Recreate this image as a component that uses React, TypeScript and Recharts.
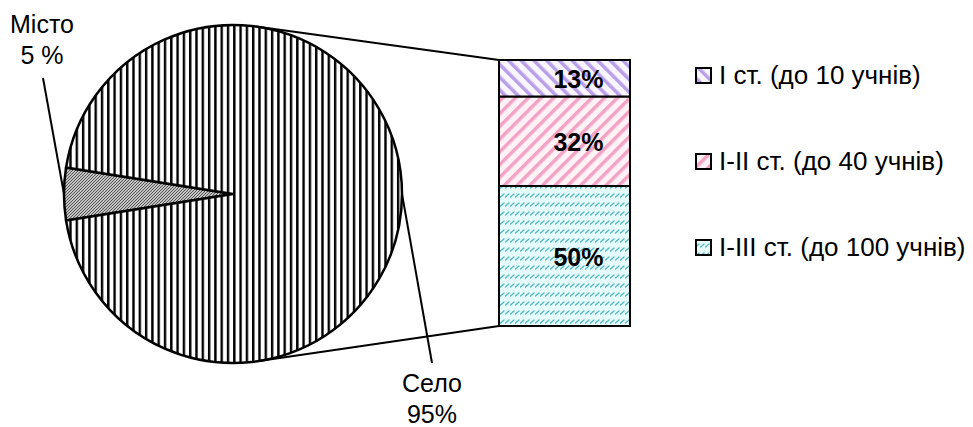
import { PieChart, Pie, Cell, BarChart, Bar, XAxis, YAxis, LabelList } from "recharts";

const pieNames = ["Місто", "Село"];
const pieValues = [5, 95];
const pieLabels = ["5 %", "95%"];

// stacked bar, bottom segment first
const barKeys = ["s3", "s2", "s1"];
const barNames = ["I-III ст. (до 100 учнів)", "I-II ст. (до 40 учнів)", "I ст. (до 10 учнів)"];
const barValues = [50, 32, 13];
const legendOrder = [2, 1, 0];

const W = 973;
const H = 427;
const FONT = "'Liberation Sans', Arial, sans-serif";

const PIE_CX = 233;
const PIE_CY = 194;
const PIE_R = 169;

const BAR_LEFT = 499;
const BAR_RIGHT = 630;
const BAR_TOP = 60;
const BAR_BOTTOM = 326;

const pieFills = ["pMisto", "pSelo"];
const barFills = ["pSt3", "pSt2", "pSt1"];

// where each pie label sits relative to the point on the rim at the slice's mid angle
const labelPlacement: Record<string, { line: [number, number]; text: [number, number] }> = {
  "Місто": { line: [-21, -116], text: [-22, -161] },
  "Село": { line: [30, 169], text: [30, 198] },
};

const RAD = Math.PI / 180;

function renderPieLabel(props: any) {
  const { cx, cy, midAngle, outerRadius, index } = props;
  const name = pieNames[index];
  const place = labelPlacement[name];
  const ax = cx + outerRadius * Math.cos(-midAngle * RAD);
  const ay = cy + outerRadius * Math.sin(-midAngle * RAD);
  const tx = ax + place.text[0];
  const ty = ay + place.text[1];
  return (
    <g>
      <line x1={ax} y1={ay} x2={ax + place.line[0]} y2={ay + place.line[1]} stroke="#000" strokeWidth={2} />
      <text x={tx} y={ty} textAnchor="middle" fontFamily={FONT} fontSize={25} fill="#000">
        {name}
      </text>
      <text x={tx} y={ty + 31} textAnchor="middle" fontFamily={FONT} fontSize={25} fill="#000">
        {pieLabels[index]}
      </text>
    </g>
  );
}

function renderBarLabel(p: any) {
  const { x, y, width, height, value } = p;
  return (
    <text
      x={x + width / 2 + 14}
      y={y + height / 2 + 1}
      textAnchor="middle"
      dominantBaseline="central"
      fontFamily={FONT}
      fontSize={25}
      fontWeight="bold"
      fill="#000"
    >
      {value}%
    </text>
  );
}

function tangentPoint(px: number, py: number, upper: boolean) {
  const dx = px - PIE_CX;
  const dy = py - PIE_CY;
  const d = Math.hypot(dx, dy);
  const base = Math.atan2(dy, dx);
  const a = Math.acos(PIE_R / d);
  const t = upper ? base - a : base + a;
  return [PIE_CX + PIE_R * Math.cos(t), PIE_CY + PIE_R * Math.sin(t)];
}

export default function App() {
  const pieData = pieNames.map((name, i) => ({ name, value: pieValues[i] }));
  const barRow: Record<string, any> = { name: "Село" };
  barKeys.forEach((k, i) => (barRow[k] = barValues[i]));
  const barData = [barRow];
  const barTotal = barValues.reduce((a, b) => a + b, 0);

  const top = tangentPoint(BAR_LEFT, BAR_TOP, true);
  const bottom = tangentPoint(BAR_LEFT, BAR_BOTTOM, false);

  return (
    <div style={{ position: "absolute", left: 0, top: 0, width: W, height: H, background: "#fff", fontFamily: FONT }}>
      <svg width={0} height={0} style={{ position: "absolute" }}>
        <defs>
          <pattern id="pSelo" patternUnits="userSpaceOnUse" width={6.3} height={10}>
            <rect width={6.3} height={10} fill="#fff" />
            <rect x={0} width={2.4} height={10} fill="#000" />
          </pattern>
          <pattern id="pMisto" patternUnits="userSpaceOnUse" width={3} height={3}>
            <rect width={3} height={3} fill="#c4c4c4" />
            <path d="M0,3 L3,0 M-1,1 L1,-1 M2,4 L4,2" stroke="#444" strokeWidth={0.9} />
          </pattern>
          <pattern id="pSt1" patternUnits="userSpaceOnUse" width={9} height={9} patternTransform="rotate(-45)">
            <rect width={9} height={9} fill="#faf6ff" />
            <rect width={3.5} height={9} fill="#b99fe8" />
          </pattern>
          <pattern id="pSt2" patternUnits="userSpaceOnUse" width={9} height={9} patternTransform="rotate(45)">
            <rect width={9} height={9} fill="#fff2f7" />
            <rect width={3.5} height={9} fill="#f2a3c3" />
          </pattern>
          <pattern id="pSt3" patternUnits="userSpaceOnUse" width={5} height={9}>
            <rect width={5} height={9} fill="#e6fbfb" />
            <path d="M0.5,8 L4,5" stroke="#52b6c2" strokeWidth={1.3} strokeLinecap="round" />
          </pattern>
        </defs>
      </svg>

      <div style={{ position: "absolute", left: 0, top: 0 }}>
        <PieChart width={W} height={H} margin={{ top: 0, right: 0, bottom: 0, left: 0 }}>
          <Pie
            data={pieData}
            dataKey="value"
            nameKey="name"
            cx={PIE_CX}
            cy={PIE_CY}
            outerRadius={PIE_R}
            startAngle={171}
            endAngle={531}
            stroke="#000"
            strokeWidth={2.5}
            label={renderPieLabel}
            labelLine={false}
            isAnimationActive={false}
          >
            {pieData.map((d, i) => (
              <Cell key={d.name} fill={`url(#${pieFills[i]})`} />
            ))}
          </Pie>
        </PieChart>
      </div>

      <div style={{ position: "absolute", left: 0, top: 0 }}>
        <BarChart
          width={W}
          height={H}
          data={barData}
          margin={{ top: BAR_TOP, right: W - BAR_RIGHT, bottom: H - BAR_BOTTOM, left: BAR_LEFT }}
          barCategoryGap={0}
        >
          <XAxis dataKey="name" type="category" hide />
          <YAxis type="number" domain={[0, barTotal]} hide />
          {barKeys.map((k, i) => (
            <Bar
              key={k}
              dataKey={k}
              name={barNames[i]}
              stackId="a"
              fill={`url(#${barFills[i]})`}
              stroke="#000"
              strokeWidth={2}
              isAnimationActive={false}
            >
              <LabelList dataKey={k} content={renderBarLabel} />
            </Bar>
          ))}
        </BarChart>
      </div>

      <svg width={W} height={H} style={{ position: "absolute", left: 0, top: 0, pointerEvents: "none" }}>
        <line x1={top[0]} y1={top[1]} x2={BAR_LEFT} y2={BAR_TOP} stroke="#000" strokeWidth={2} />
        <line x1={bottom[0]} y1={bottom[1]} x2={BAR_LEFT} y2={BAR_BOTTOM} stroke="#000" strokeWidth={2} />
      </svg>

      <div style={{ position: "absolute", left: 695, top: 32 }}>
        {legendOrder.map((i) => (
          <div key={barKeys[i]} style={{ height: 86, display: "flex", alignItems: "center" }}>
            <svg width={17} height={17}>
              <rect x={1} y={1} width={15} height={15} fill={`url(#${barFills[i]})`} stroke="#000" strokeWidth={2} />
            </svg>
            <span style={{ marginLeft: 7, fontSize: 26, lineHeight: 1, whiteSpace: "nowrap", color: "#000" }}>
              {barNames[i]}
            </span>
          </div>
        ))}
      </div>
    </div>
  );
}
